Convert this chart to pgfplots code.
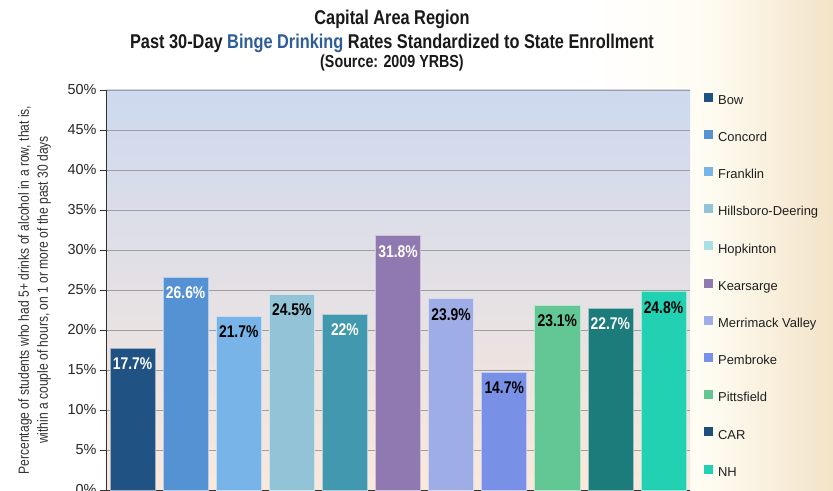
\documentclass[border=0pt]{standalone}
\usepackage{fontspec}
\setmainfont{Liberation Sans}
\newfontfamily\narrow{Liberation Sans}[FakeStretch=0.82]
\usepackage{pgfplots}
\pgfplotsset{compat=1.18}
\definecolor{cBow}{HTML}{215284}
\definecolor{cConcord}{HTML}{5592D4}
\definecolor{cFranklin}{HTML}{78B4E8}
\definecolor{cHills}{HTML}{93C3D6}
\definecolor{cHopBar}{HTML}{4298AE}
\definecolor{cHopLeg}{HTML}{AADFE6}
\definecolor{cKear}{HTML}{9079B0}
\definecolor{cMerr}{HTML}{9EADE6}
\definecolor{cPem}{HTML}{7891E6}
\definecolor{cPitt}{HTML}{62C794}
\definecolor{cCARBar}{HTML}{1B7C7B}
\definecolor{cCARLeg}{HTML}{1F4E7A}
\definecolor{cNH}{HTML}{22D0B2}
\definecolor{bgTop}{HTML}{CDD9EF}
\definecolor{bgBot}{HTML}{FBE8DA}
\definecolor{beige}{HTML}{F3E3C8}
\definecolor{cream}{HTML}{FEFCF2}
\definecolor{titleblue}{HTML}{2E5D9A}
\pgfplotsset{
  barlbl/.style={ybar, bar width=0.85, bar shift=0pt, fill=#1, draw=white!55!#1, line width=0.6pt, forget plot,
    nodes near coords, point meta=explicit symbolic,
    every node near coord/.append style={anchor=north, yshift=-6bp, font=\narrow\bfseries\fontsize{17}{17}\selectfont}},
}
\begin{document}
\begin{tikzpicture}[x=1bp,y=1bp]
\fill[white] (-106,-1) rectangle (727,490);
\shade[left color=white, right color=cream] (480,-1) rectangle (600,490);
\shade[left color=cream, right color=beige] (600,-1) rectangle (727,490);
\begin{axis}[at={(0,0)}, anchor=south west, scale only axis,
  width=584bp, height=400bp,
  xmin=-0.5, xmax=10.5, ymin=0, ymax=50,
  ytick={0,5,...,50}, xtick=\empty,
  axis lines*=left,
  axis line style={draw=black!80, line width=0.8pt},
  tick align=outside, major tick length=6bp,
  ytick style={black!80, line width=0.8pt},
  ymajorgrids, grid style={draw=black!38, line width=0.9pt},
  axis background/.style={top color=bgTop, bottom color=bgBot},
  /pgf/number format/assume math mode=true,
  yticklabel={\pgfmathprintnumber{\tick}\%},
  yticklabel style={font=\fontsize{14.5}{14.5}\selectfont, text=black!85},
  ylabel={Percentage of students who had 5+ drinks of alcohol in a row, that is,\\within a couple of hours, on 1 or more of the past 30 days},
  every axis y label/.style={at={(axis description cs:-0.1224,0.5)}, rotate=90, anchor=center, align=center,
    font=\narrow\fontsize{14.8}{19}\selectfont, text=black!80},
  legend image code/.code={\fill[#1] (-1bp,0bp) rectangle (7bp,8bp); \path (11bp,0bp);},
  legend style={at={(1.0240,0.994)}, anchor=north west, draw=none, fill=none,
    font=\fontsize{13}{13}\selectfont, text=black!88, inner sep=0pt, row sep=22bp,
    nodes={inner sep=1.5bp, text height=9bp, text depth=2bp, anchor=west}},
  legend cell align=left,
  clip=false,
]
\addplot[barlbl=cBow, every node near coord/.append style={text=white}] coordinates {(0,17.7) [17.7\%]};
\addplot[barlbl=cConcord, every node near coord/.append style={text=white}] coordinates {(1,26.6) [26.6\%]};
\addplot[barlbl=cFranklin, every node near coord/.append style={text=black}] coordinates {(2,21.7) [21.7\%]};
\addplot[barlbl=cHills, every node near coord/.append style={text=black}] coordinates {(3,24.5) [24.5\%]};
\addplot[barlbl=cHopBar, every node near coord/.append style={text=white}] coordinates {(4,22) [22\%]};
\addplot[barlbl=cKear, every node near coord/.append style={text=white}] coordinates {(5,31.8) [31.8\%]};
\addplot[barlbl=cMerr, every node near coord/.append style={text=black}] coordinates {(6,23.9) [23.9\%]};
\addplot[barlbl=cPem, every node near coord/.append style={text=black}] coordinates {(7,14.7) [14.7\%]};
\addplot[barlbl=cPitt, every node near coord/.append style={text=black}] coordinates {(8,23.1) [23.1\%]};
\addplot[barlbl=cCARBar, every node near coord/.append style={text=white}] coordinates {(9,22.7) [22.7\%]};
\addplot[barlbl=cNH, every node near coord/.append style={text=black}] coordinates {(10,24.8) [24.8\%]};
\addlegendimage{cBow}\addlegendentry{Bow}
\addlegendimage{cConcord}\addlegendentry{Concord}
\addlegendimage{cFranklin}\addlegendentry{Franklin}
\addlegendimage{cHills}\addlegendentry{Hillsboro-Deering}
\addlegendimage{cHopLeg}\addlegendentry{Hopkinton}
\addlegendimage{cKear}\addlegendentry{Kearsarge}
\addlegendimage{cMerr}\addlegendentry{Merrimack Valley}
\addlegendimage{cPem}\addlegendentry{Pembroke}
\addlegendimage{cPitt}\addlegendentry{Pittsfield}
\addlegendimage{cCARLeg}\addlegendentry{CAR}
\addlegendimage{cNH}\addlegendentry{NH}
\end{axis}
\node[font=\narrow\bfseries\fontsize{20}{20}\selectfont, text=black!90] at (286,471) {Capital Area Region};
\node[font=\narrow\bfseries\fontsize{20}{20}\selectfont, text=black!90] at (286,447) {Past 30-Day \textcolor{titleblue}{Binge Drinking} Rates Standardized to State Enrollment};
\node[font=\narrow\bfseries\fontsize{17.5}{17.5}\selectfont, text=black!90] at (286,427) {(Source: 2009 YRBS)};
\pgfresetboundingbox
\useasboundingbox (-106,-1) rectangle (727,490);
\end{tikzpicture}
\end{document}
